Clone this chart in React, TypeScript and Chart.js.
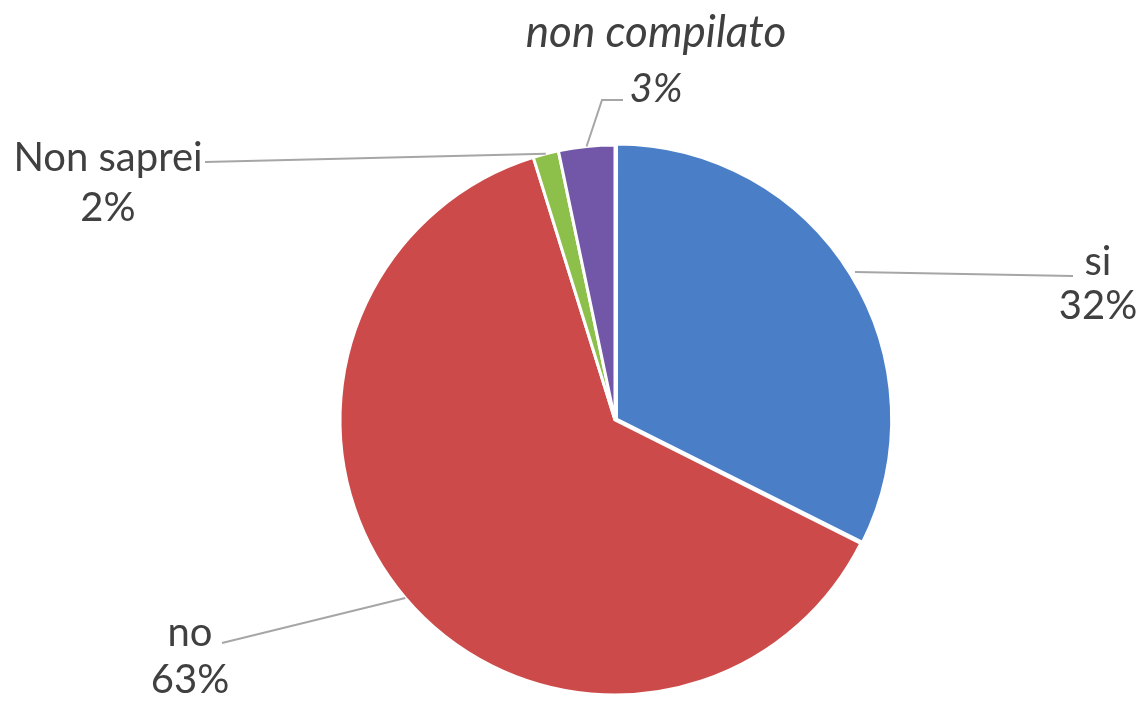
import React, { useEffect, useRef } from "react";
import { Chart, registerables } from "chart.js";

Chart.register(...registerables);

const categories = ["si", "no", "Non saprei", "non compilato"];
const values = [32.4, 62.8, 1.5, 3.3];
const percentLabels = ["32%", "63%", "2%", "3%"];
const colors = ["#4A7FC8", "#CC4B4A", "#8DC04A", "#7257A8"];

// label placement relative to pie centre (style, not data)
const labelLayout = [
  { name: [483, -158], pct: [483, -114], line: [[458, -144]], italic: false },
  { name: [-425, 213], pct: [-425, 260], line: [[-393, 223]], italic: false },
  { name: [-507, -262], pct: [-507, -212], line: [[-410, -258]], italic: false },
  { name: [41, -387], pct: [41, -331], line: [[-13, -320], [8, -320]], italic: true },
];

const labelPlugin = {
  id: "pieLabels",
  afterDatasetsDraw(chart: any) {
    const ctx = chart.ctx;
    const meta = chart.getDatasetMeta(0);
    const offsets = chart.data.datasets[0].offset || [];
    ctx.save();
    meta.data.forEach((arc: any, i: number) => {
      const { x, y, startAngle, endAngle, outerRadius } = arc.getProps(
        ["x", "y", "startAngle", "endAngle", "outerRadius"],
        true
      );
      const mid = (startAngle + endAngle) / 2;
      const off = Array.isArray(offsets) ? offsets[i] || 0 : 0;
      const r = outerRadius + off;
      const sx = x + Math.cos(mid) * r;
      const sy = y + Math.sin(mid) * r;
      const lay = labelLayout[i];
      ctx.beginPath();
      ctx.strokeStyle = "#A6A6A6";
      ctx.lineWidth = 2;
      ctx.moveTo(sx, sy);
      lay.line.forEach((p) => ctx.lineTo(x + p[0], y + p[1]));
      ctx.stroke();

      ctx.fillStyle = "#404040";
      ctx.textAlign = "center";
      ctx.textBaseline = "middle";
      ctx.font = lay.italic ? "italic 44px Lato, 'Open Sans', sans-serif" : "40px Lato, 'Open Sans', sans-serif";
      ctx.fillText(categories[i], x + lay.name[0], y + lay.name[1]);
      ctx.font = lay.italic ? "italic 40px Lato, 'Open Sans', sans-serif" : "40px Lato, 'Open Sans', sans-serif";
      ctx.fillText(percentLabels[i], x + lay.pct[0], y + lay.pct[1]);
    });
    ctx.restore();
  },
};

export default function App() {
  const ref = useRef<HTMLCanvasElement>(null);
  useEffect(() => {
    document.body.style.margin = "0";
    if (!ref.current) return;
    const chart = new Chart(ref.current, {
      type: "pie",
      data: {
        labels: categories,
        datasets: [
          {
            data: values,
            backgroundColor: colors,
            borderColor: "#FFFFFF",
            borderWidth: 3,
            offset: [7, 0, 0, 0],
          } as any,
        ],
      },
      options: {
        animation: false,
        responsive: false,
        radius: 275,
        layout: { padding: { left: 88, right: 0, top: 137, bottom: 0 } },
        plugins: {
          legend: { display: false },
          tooltip: { enabled: false },
        },
      } as any,
      plugins: [labelPlugin],
    });
    (document as any).fonts?.ready?.then(() => chart.draw());
    return () => chart.destroy();
  }, []);
  return (
    <div style={{ position: "absolute", left: 0, top: 0, width: 1142, height: 703, background: "#fff" }}>
      <canvas ref={ref} width={1142} height={703} style={{ width: 1142, height: 703 }} />
    </div>
  );
}
